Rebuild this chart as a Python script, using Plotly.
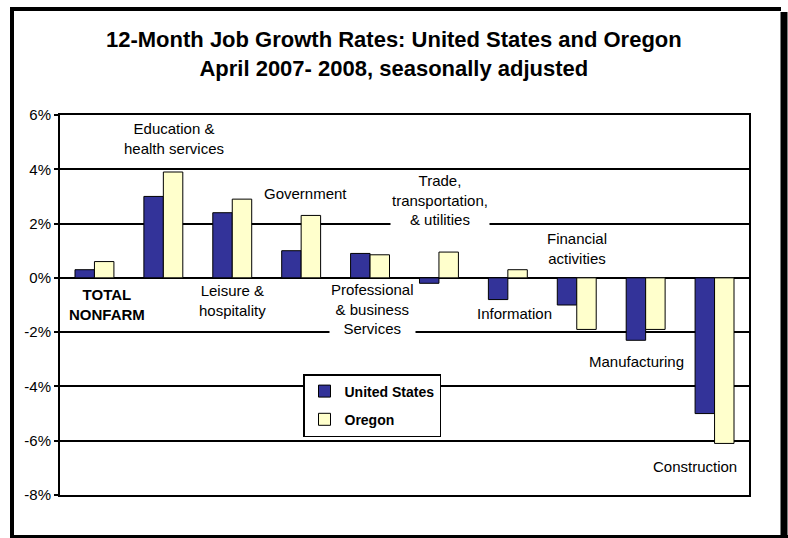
import plotly.graph_objects as go

# ---------------- data ----------------
categories = [
    "TOTAL NONFARM", "Education & health services", "Leisure & hospitality",
    "Government", "Professional & business Services",
    "Trade, transportation, & utilities", "Information",
    "Financial activities", "Manufacturing", "Construction",
]
us_values = [0.3, 3.0, 2.4, 1.0, 0.9, -0.2, -0.8, -1.0, -2.3, -5.0]
oregon_values = [0.6, 3.9, 2.9, 2.3, 0.85, 0.95, 0.3, -1.9, -1.9, -6.1]
series_names = ["United States", "Oregon"]
y_tick_values = [-8, -6, -4, -2, 0, 2, 4, 6]
y_tick_labels = ["-8%", "-6%", "-4%", "-2%", "0%", "2%", "4%", "6%"]

# category label texts (as drawn in the chart)
label_texts = [
    "<b>TOTAL<br>NONFARM</b>", "Education &<br>health services",
    "Leisure &<br>hospitality", "Government",
    "Professional<br>& business<br>Services",
    "Trade,<br>transportation,<br>& utilities", "Information",
    "Financial<br>activities", "Manufacturing", "Construction",
]

# ---------------- layout / style ----------------
W, H = 788, 538
ML, MR, MT, MB = 60, 39, 115, 43
PW, PH = W - ML - MR, H - MT - MB
FONT = "Liberation Sans, Arial, sans-serif"
US_COLOR = "#333399"
OR_COLOR = "#FFFFCC"
Y_MIN, Y_MAX = -8, 6

# label placements (category index offset, y value)
label_pos = [
    (0.18, -0.99), (1.15, 5.14), (2.0, -0.85), (3.06, 3.12), (4.03, -1.15),
    (5.01, 2.86), (6.1, -1.31), (7.01, 1.09), (7.86, -3.07), (8.72, -6.94),
]

x_idx = list(range(len(categories)))

fig = go.Figure()
fig.add_trace(go.Bar(
    x=x_idx, y=us_values, name=series_names[0], legendgroup="us",
    marker=dict(color=US_COLOR, line=dict(color="black", width=1)),
    hovertext=categories,
))
fig.add_trace(go.Bar(
    x=x_idx, y=oregon_values, name=series_names[1], legendgroup="or",
    marker=dict(color=OR_COLOR, line=dict(color="black", width=1)),
    hovertext=categories,
))


def pxx(x):
    return (x - ML) / PW


def pxy(y):
    return (H - MB - y) / PH


shapes = [
    dict(type="line", xref="paper", yref="paper", x0=pxx(12), x1=pxx(12), y0=pxy(7), y1=pxy(537),
         line=dict(color="black", width=4)),
    dict(type="line", xref="paper", yref="paper", x0=pxx(10), x1=pxx(781), y0=pxy(9), y1=pxy(9),
         line=dict(color="black", width=4)),
    dict(type="line", xref="paper", yref="paper", x0=pxx(784), x1=pxx(784), y0=pxy(12), y1=pxy(540),
         line=dict(color="black", width=7)),
    dict(type="line", xref="paper", yref="paper", x0=pxx(10), x1=pxx(788), y0=pxy(537), y1=pxy(537),
         line=dict(color="black", width=4)),
]

annotations = []
for (xo, yv), txt in zip(label_pos, label_texts):
    annotations.append(dict(
        x=xo, y=yv, xref="x", yref="y", text=txt, showarrow=False,
        font=dict(family=FONT, size=15, color="black"),
        bgcolor="white", align="center", xanchor="center", yanchor="middle",
    ))
annotations.append(dict(
    x=(W / 2 - ML) / PW, xref="paper", y=pxy(54), yref="paper",
    text="<b>12-Month Job Growth Rates: United States and Oregon<br>April 2007- 2008, seasonally adjusted</b>",
    showarrow=False, font=dict(family=FONT, size=22, color="black"),
    xanchor="center", yanchor="middle", align="center",
))

fig.update_layout(
    width=W, height=H,
    margin=dict(l=ML, r=MR, t=MT, b=MB, autoexpand=False),
    paper_bgcolor="white", plot_bgcolor="white",
    font=dict(family=FONT, size=15, color="black"),
    barmode="group", bargap=0.435, bargroupgap=0,
    showlegend=True,
    legend=dict(
        x=pxx(303), y=pxy(374), xanchor="left", yanchor="top",
        bgcolor="white", bordercolor="black", borderwidth=1.5,
        font=dict(family=FONT, size=14, color="black", weight="bold"),
        traceorder="grouped", tracegroupgap=7, itemwidth=30,
    ),
    xaxis=dict(
        range=[-0.5, len(categories) - 0.5], showgrid=False, zeroline=False,
        showline=True, mirror=True, linecolor="black", linewidth=1.5,
        showticklabels=False, ticks="", automargin=False,
    ),
    xaxis2=dict(
        overlaying="x", anchor="free",
        position=(0 - Y_MIN) / (Y_MAX - Y_MIN),
        range=[-0.5, len(categories) - 0.5],
        tickmode="array", tickvals=[i - 0.5 for i in range(len(categories) + 1)],
        ticks="outside", ticklen=4, tickcolor="black", tickwidth=1,
        showticklabels=False, showgrid=False, zeroline=False,
        showline=True, linecolor="black", linewidth=1.5, automargin=False,
    ),
    yaxis=dict(
        range=[Y_MIN, Y_MAX], tickmode="array", tickvals=y_tick_values,
        ticktext=y_tick_labels, showgrid=True, gridcolor="black", gridwidth=1.5,
        zeroline=False, showline=True, mirror=True, linecolor="black", linewidth=2,
        ticks="outside", ticklen=4, tickcolor="black", tickwidth=1.5,
        tickfont=dict(family=FONT, size=15, color="black"), automargin=False,
    ),
    shapes=shapes,
    annotations=annotations,
)

fig.write_html(
    "out.html",
    config={"displayModeBar": False},
    post_script="document.body.style.margin='0';document.body.style.overflow='hidden';",
)
